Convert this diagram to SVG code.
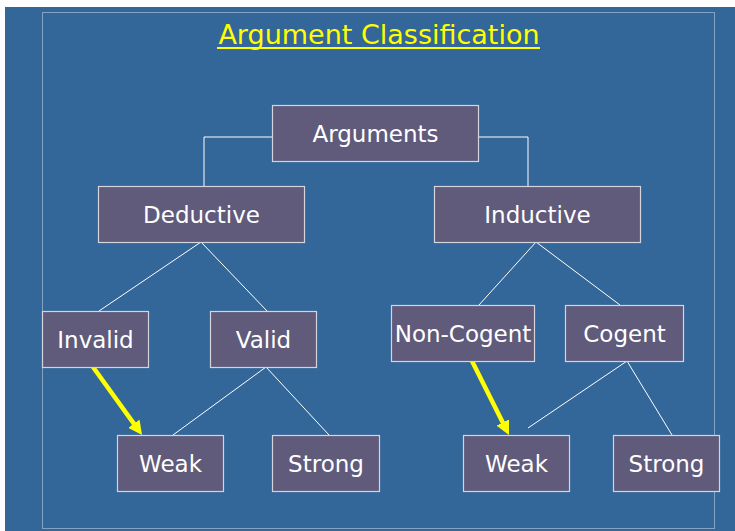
<svg xmlns="http://www.w3.org/2000/svg" width="735" height="531" viewBox="0 0 735 531">
<defs>
<style>
.node rect{fill:#605A7B;stroke:#D4D4DC;stroke-width:1.2}
.node text{fill:#FFFFFF;font-family:"DejaVu Sans",sans-serif;font-size:23px;text-anchor:middle}
.conn line,.conn polyline{stroke:#FFFFFF;stroke-width:1;fill:none}
.conn .hl{stroke:#FFFF00;stroke-width:4.5}
</style>
<marker id="ah" viewBox="0 0 14 14" refX="4" refY="7" markerWidth="14" markerHeight="14" markerUnits="userSpaceOnUse" orient="auto">
<path d="M0,0 L14,7 L0,14 z" fill="#FFFF00"/>
</marker>
</defs>
<rect x="0" y="0" width="735" height="531" fill="#FFFFFF"/>
<rect x="5" y="7" width="730" height="524" fill="#336699"/>
<rect x="42.5" y="12.5" width="672" height="516" fill="none" stroke="#FFFFFF" stroke-opacity="0.8" stroke-width="1" stroke-dasharray="1,1"/>
<g id="title">
<text x="379" y="44" fill="#FFFF00" font-family="DejaVu Sans,sans-serif" font-size="27" text-anchor="middle">Argument Classification</text>
<line x1="217" y1="48" x2="540" y2="48" stroke="#FFFF00" stroke-width="2"/>
</g>
<g id="connectors" class="conn">
<polyline points="272,137 204,137 204,186"/>
<polyline points="478,137 528,137 528,186"/>
<line x1="201" y1="242" x2="99" y2="311"/>
<line x1="201" y1="242" x2="267" y2="311"/>
<line x1="266" y1="367" x2="173" y2="435"/>
<line x1="266" y1="367" x2="329" y2="435"/>
<line x1="536" y1="242" x2="479" y2="305"/>
<line x1="536" y1="242" x2="620" y2="305"/>
<line x1="627" y1="361" x2="528" y2="428"/>
<line x1="627" y1="361" x2="672" y2="435"/>
<line class="hl" x1="93" y1="367" x2="136.2" y2="426.9" marker-end="url(#ah)"/>
<line class="hl" x1="472" y1="361" x2="504.5" y2="426" marker-end="url(#ah)"/>
</g>
<g id="n-arguments" class="node"><rect x="272.5" y="105.5" width="206" height="56"/><text x="375.5" y="142">Arguments</text></g>
<g id="n-deductive" class="node"><rect x="98.5" y="186.5" width="206" height="56"/><text x="201.5" y="223">Deductive</text></g>
<g id="n-inductive" class="node"><rect x="434.5" y="186.5" width="206" height="56"/><text x="537.5" y="223">Inductive</text></g>
<g id="n-invalid" class="node"><rect x="42.5" y="311.5" width="106" height="56"/><text x="95.5" y="348">Invalid</text></g>
<g id="n-valid" class="node"><rect x="210.5" y="311.5" width="106" height="56"/><text x="263.5" y="348">Valid</text></g>
<g id="n-noncogent" class="node"><rect x="391.5" y="305.5" width="143" height="56"/><text x="463" y="342">Non-Cogent</text></g>
<g id="n-cogent" class="node"><rect x="565.5" y="305.5" width="118" height="56"/><text x="624.5" y="342">Cogent</text></g>
<g id="n-weak1" class="node"><rect x="117.5" y="435.5" width="106" height="56"/><text x="170.5" y="472">Weak</text></g>
<g id="n-strong1" class="node"><rect x="272.5" y="435.5" width="107" height="56"/><text x="326" y="472">Strong</text></g>
<g id="n-weak2" class="node"><rect x="463.5" y="435.5" width="106" height="56"/><text x="516.5" y="472">Weak</text></g>
<g id="n-strong2" class="node"><rect x="613.5" y="435.5" width="106" height="56"/><text x="666.5" y="472">Strong</text></g>
</svg>
